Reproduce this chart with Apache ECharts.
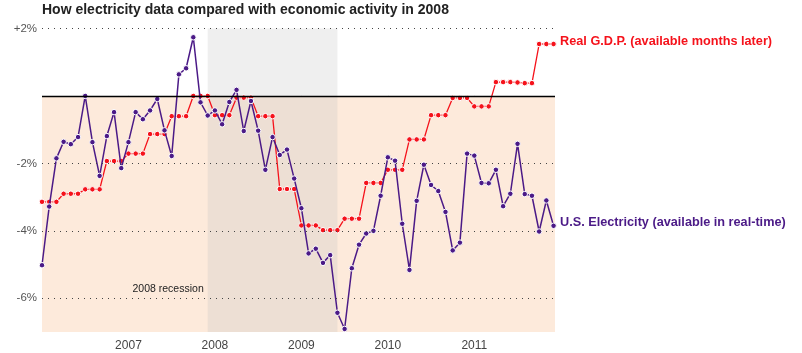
<!DOCTYPE html>
<html>
<head>
<meta charset="utf-8">
<script src="https://cdn.jsdelivr.net/npm/echarts@6/dist/echarts.min.js"></script>
<style>
  html, body { margin: 0; padding: 0; background: #fff; }
  #chart { width: 802px; height: 353px; }
</style>
</head>
<body>
<div id="chart"></div>
<script>
// monthly values, Jan 2006 .. Dec 2011 (index 0..71), % change
const electricity = [
  -5.02, -3.28, -1.85, -1.36, -1.43, -1.22, 0.0, -1.37, -2.37, -1.19, -0.48, -2.14,
  -1.37, -0.48, -0.69, -0.43, -0.09, -1.02, -1.78, 0.64, 0.82, 1.74, -0.19, -0.58,
  -0.43, -0.84, -0.18, 0.18, -1.04, -0.15, -1.03, -2.19, -1.22, -1.75, -1.59, -2.45,
  -3.33, -4.67, -4.53, -4.95, -4.72, -6.43, -6.91, -5.11, -4.41, -4.08, -4.0, -2.96,
  -1.82, -1.92, -3.79, -5.16, -3.11, -2.04, -2.64, -2.82, -3.44, -4.58, -4.35, -1.71,
  -1.77, -2.58, -2.59, -2.19, -3.27, -2.90, -1.42, -2.91, -2.96, -4.02, -3.10, -3.85
];
const gdp = [
  -3.14, -3.14, -3.14, -2.90, -2.90, -2.90, -2.77, -2.77, -2.77, -1.93, -1.93, -1.93,
  -1.71, -1.71, -1.71, -1.13, -1.13, -1.13, -0.60, -0.60, -0.60, 0.0, 0.0, 0.0,
  -0.57, -0.57, -0.57, -0.05, -0.05, -0.05, -0.60, -0.60, -0.60, -2.76, -2.76, -2.76,
  -3.84, -3.84, -3.84, -3.98, -3.98, -3.98, -3.64, -3.64, -3.64, -2.58, -2.58, -2.58,
  -2.19, -2.19, -2.19, -1.29, -1.29, -1.29, -0.57, -0.57, -0.57, -0.06, -0.06, -0.06,
  -0.31, -0.31, -0.31, 0.41, 0.41, 0.41, 0.40, 0.38, 0.38, 1.54, 1.54, 1.54
];
const yearMonths = [12, 24, 36, 48, 60];
const yearLabels = ['2007', '2008', '2009', '2010', '2011'];
const recession = [23, 41];          // Dec 2007 .. Jun 2009
const gridValues = [2, -2, -4, -6];

const title = 'How electricity data compared with economic activity in 2008';
const gdpName = 'Real G.D.P. (available months later)';
const elecName = 'U.S. Electricity (available in real-time)';

const PURPLE = '#4b1a87';
const RED = '#f5121b';
const FONT = 'Arial, "Liberation Sans", sans-serif';

const chart = echarts.init(document.getElementById('chart'));

const option = {
  animation: false,
  grid: { left: 42, right: 247, top: 28.5, bottom: 21 },
  xAxis: {
    type: 'value',
    min: 0,
    max: 71.2,
    splitLine: { show: false },
    axisLine: { show: false },
    axisTick: {
      customValues: yearMonths,
      length: 4,
      lineStyle: { color: '#333' }
    },
    axisLabel: {
      customValues: yearMonths,
      formatter: v => yearLabels[yearMonths.indexOf(v)] || '',
      color: '#444',
      fontSize: 12,
      fontFamily: FONT,
      margin: 8
    }
  },
  yAxis: {
    type: 'value',
    min: -7,
    max: 2,
    interval: 1,
    splitLine: { show: false },
    axisLine: { show: false },
    axisTick: { show: false },
    axisLabel: {
      formatter: v => gridValues.indexOf(v) >= 0 ? (v > 0 ? '+' : '') + v + '%' : '',
      color: '#555',
      fontSize: 11.5,
      fontFamily: FONT,
      margin: 5
    }
  },
  series: [
    {
      name: 'bg',
      type: 'line',
      data: [],
      silent: true,
      markArea: {
        silent: true,
        data: [
          [{ yAxis: 0, itemStyle: { color: '#fdeadb' } }, { yAxis: -7 }],
          [{
            xAxis: recession[0],
            itemStyle: { color: 'rgba(190,190,190,0.25)' },
            label: {
              show: true,
              formatter: '2008 recession',
              position: [-4, 260.5],
              align: 'right',
              verticalAlign: 'middle',
              color: '#222',
              fontSize: 10.5,
              fontFamily: FONT
            }
          }, { xAxis: recession[1] }]
        ]
      },
      markLine: {
        silent: true,
        symbol: 'none',
        label: { show: false },
        data: gridValues.map(v => ({
          yAxis: v,
          lineStyle: { color: '#444', type: [1, 5], width: 1 }
        })).concat([{ yAxis: 0, lineStyle: { color: '#000', type: 'solid', width: 1.3 } }])
      }
    },
    {
      name: gdpName,
      type: 'line',
      data: gdp.map((v, i) => [i, v]),
      symbol: 'circle',
      symbolSize: 5.5,
      lineStyle: { color: RED, width: 1.3 },
      itemStyle: { color: RED, borderColor: '#fff', borderWidth: 1 },
      z: 3
    },
    {
      name: elecName,
      type: 'line',
      data: electricity.map((v, i) => [i, v]),
      symbol: 'circle',
      symbolSize: 5.5,
      lineStyle: { color: PURPLE, width: 1.5 },
      itemStyle: { color: PURPLE, borderColor: '#fff', borderWidth: 1 },
      z: 4
    }
  ]
};
chart.setOption(option);

// title and series labels placed next to the last data points
const lastGdp = chart.convertToPixel({ gridIndex: 0 }, [gdp.length - 1, gdp[gdp.length - 1]]);
const lastElec = chart.convertToPixel({ gridIndex: 0 }, [electricity.length - 1, electricity[electricity.length - 1]]);

chart.setOption({
  graphic: [
    {
      type: 'text', left: 42, top: 3,
      style: { text: title, font: 'bold 14px ' + FONT, fill: '#222' }
    },
    {
      type: 'text', x: lastGdp[0] + 6.5, y: lastGdp[1] - 3,
      style: { text: gdpName, font: 'bold 12.7px ' + FONT, fill: RED, verticalAlign: 'middle' }
    },
    {
      type: 'text', x: lastElec[0] + 6.5, y: lastElec[1] - 3.5,
      style: { text: elecName, font: 'bold 12.7px ' + FONT, fill: PURPLE, verticalAlign: 'middle' }
    }
  ]
});
</script>
</body>
</html>
